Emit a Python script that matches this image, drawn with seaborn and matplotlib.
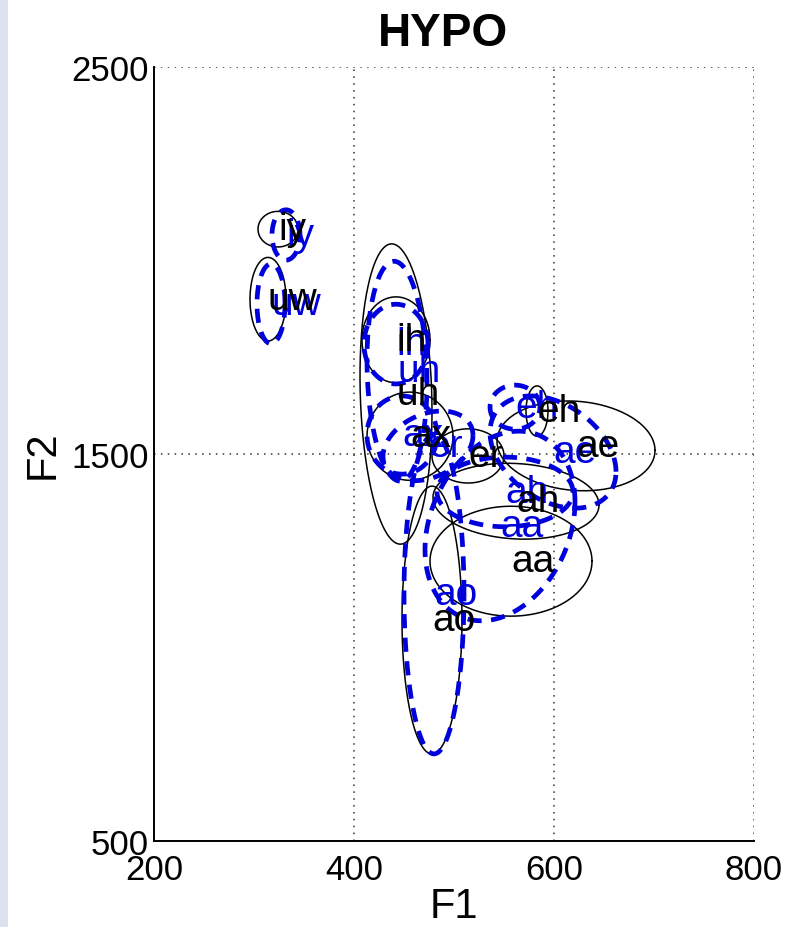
import numpy as np
import pandas as pd
import matplotlib
matplotlib.use("Agg")
import matplotlib.pyplot as plt
import seaborn as sns
from matplotlib.patches import Rectangle

# ---------------- data ----------------
vowels = ['iy', 'uw', 'ih', 'uh', 'ax', 'er', 'eh', 'ae', 'ah', 'aa', 'ao']

# reference ellipses (black, solid): mean F1, mean F2, F1 radius, F2 radius, tilt
ref_f1 = [324, 314, 442, 442, 456, 514, 583, 622, 562, 557, 478]
ref_f2 = [2081, 1900, 1795, 1655, 1546, 1495, 1611, 1521, 1378, 1223, 1071]
ref_r1 = [20, 18, 34, 36, 43, 36, 11, 79, 83, 81, 30]
ref_r2 = [46, 108, 111, 388, 114, 70, 65, 116, 98, 142, 346]
ref_rho = [0, 0, 0, -0.12, 0, 0, 0, -0.1, -0.1, 0, 0]

# hypothesis ellipses (blue, dashed)
hyp_f1 = [332, 317, 442, 443, 448, 474, 561, 599, 551, 546, 480]
hyp_f2 = [2066, 1888, 1784, 1714, 1549, 1521, 1621, 1505, 1402, 1314, 1138]
hyp_r1 = [14, 14, 32, 30, 35, 45, 25, 63, 68, 75, 30]
hyp_r2 = [65, 103, 103, 284, 101, 90, 57, 145, 90, 245, 413]
hyp_rho = [0, 0, 0, -0.1, 0, 0.3, 0, -0.35, 0, 0.25, 0]

x_ticks = [200, 400, 600, 800]
y_ticks = [500, 1500, 2500]


def ellipse_frame(f1, f2, r1, r2, rho):
    t = np.linspace(0, 2 * np.pi, 241)
    rows = []
    for v, m1, m2, a, b, r in zip(vowels, f1, f2, r1, r2, rho):
        x = m1 + a * np.cos(t)
        y = m2 + b * (r * np.cos(t) + np.sqrt(1 - r * r) * np.sin(t))
        rows.append(pd.DataFrame({'vowel': v, 'F1': x, 'F2': y}))
    return pd.concat(rows, ignore_index=True)


ref_df = ellipse_frame(ref_f1, ref_f2, ref_r1, ref_r2, ref_rho)
hyp_df = ellipse_frame(hyp_f1, hyp_f2, hyp_r1, hyp_r2, hyp_rho)

# ---------------- plot ----------------
sns.set_theme(style="white")
plt.rcParams['font.family'] = ['Liberation Sans', 'DejaVu Sans']
plt.rcParams['text.color'] = 'black'
plt.rcParams['axes.labelcolor'] = 'black'
plt.rcParams['xtick.color'] = 'black'
plt.rcParams['ytick.color'] = 'black'

fig = plt.figure(figsize=(7.86, 9.28), dpi=100)
fig.patch.set_facecolor('white')
fig.patches.append(Rectangle((0, 0), 8 / 786, 1, transform=fig.transFigure,
                             facecolor='#dde1ef', edgecolor='none', zorder=0))
ax = fig.add_axes([154 / 786, 1 - 842 / 928, 600 / 786, 774 / 928])

blue = '#0000dd'

sns.lineplot(data=ref_df, x='F1', y='F2', units='vowel', estimator=None, sort=False,
             color='black', linewidth=1.1, ax=ax, legend=False, zorder=3)
sns.lineplot(data=hyp_df, x='F1', y='F2', units='vowel', estimator=None, sort=False,
             color=blue, linewidth=3.4, linestyle=(0, (3, 2)), ax=ax, legend=False, zorder=4)

for v, x, y in zip(vowels, hyp_f1, hyp_f2):
    ax.text(x, y, v, ha='left', va='center', fontsize=28, color=blue, zorder=5)
for v, x, y in zip(vowels, ref_f1, ref_f2):
    ax.text(x, y, v, ha='left', va='center', fontsize=28, color='black', zorder=6)

ax.set_xlim(200, 800)
ax.set_ylim(500, 2500)
ax.set_xticks(x_ticks)
ax.set_yticks(y_ticks)
ax.set_xticklabels([str(t) for t in x_ticks])
ax.set_yticklabels([str(t) for t in y_ticks])
ax.grid(True, linestyle=(0, (1, 3.5)), color='#333333', linewidth=1.1)
ax.set_axisbelow(True)

for s in ['top', 'right']:
    ax.spines[s].set_visible(False)
for s in ['left', 'bottom']:
    ax.spines[s].set_color('black')
    ax.spines[s].set_linewidth(1.4)

ax.tick_params(axis='both', direction='in', length=5, width=1.2, colors='black',
               labelsize=25, labelcolor='black')
ax.tick_params(axis='x', pad=9)
ax.tick_params(axis='y', pad=4)

ax.set_xlabel('F1', fontsize=30, labelpad=0, color='black')
ax.set_ylabel('F2', fontsize=30, labelpad=6, color='black')
ax.set_title('HYPO', fontsize=33, fontweight='bold', pad=16, x=0.482, color='black')

fig.savefig('out.png', dpi=100, facecolor='white')
